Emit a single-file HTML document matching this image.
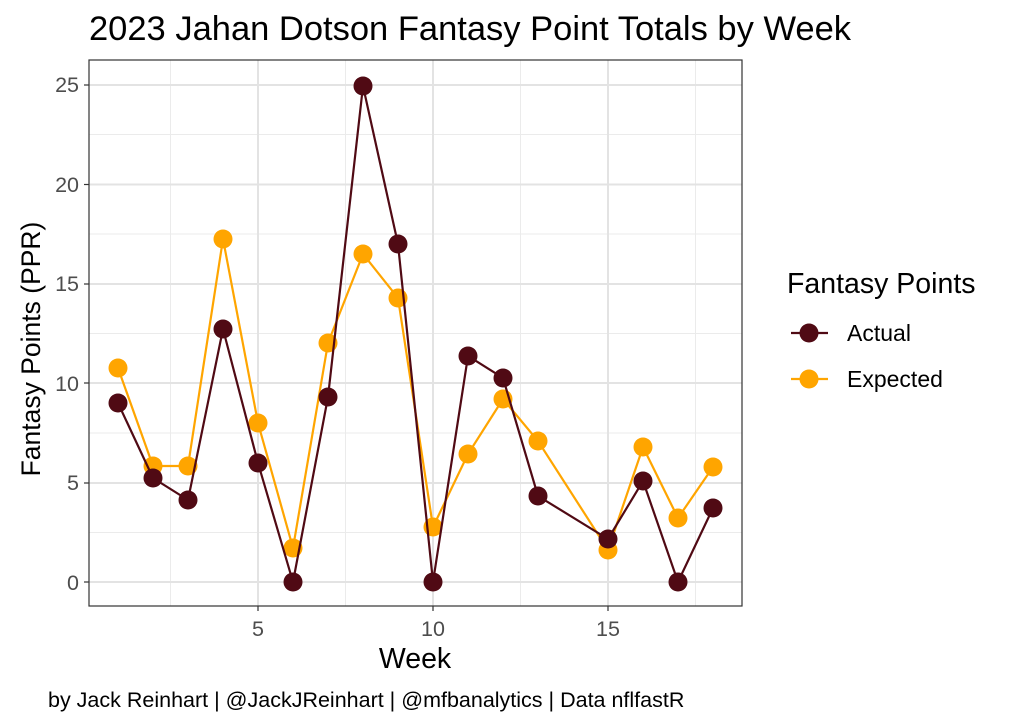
<!DOCTYPE html>
<html><head><style>body{margin:0;background:#fff}svg{display:block}text{font-family:"Liberation Sans",Arial,sans-serif}</style></head><body>
<svg width="1010" height="728" viewBox="0 0 1010 728" xmlns="http://www.w3.org/2000/svg">
<rect width="1010" height="728" fill="#fff"/>
<text x="89" y="40" font-size="34.5" fill="#000">2023 Jahan Dotson Fantasy Point Totals by Week</text>
<g stroke="#ebebeb" stroke-width="1">
<line x1="89" x2="742" y1="134.5" y2="134.5"/><line x1="89" x2="742" y1="234" y2="234"/><line x1="89" x2="742" y1="333.5" y2="333.5"/><line x1="89" x2="742" y1="433" y2="433"/><line x1="89" x2="742" y1="532.5" y2="532.5"/>
<line y1="60" y2="606" x1="170.5" x2="170.5"/><line y1="60" y2="606" x1="345.5" x2="345.5"/><line y1="60" y2="606" x1="520.5" x2="520.5"/><line y1="60" y2="606" x1="695.5" x2="695.5"/>
</g>
<g stroke="#e3e3e3" stroke-width="2">
<line x1="89" x2="742" y1="85" y2="85"/><line x1="89" x2="742" y1="184.5" y2="184.5"/><line x1="89" x2="742" y1="284" y2="284"/><line x1="89" x2="742" y1="383" y2="383"/><line x1="89" x2="742" y1="483" y2="483"/><line x1="89" x2="742" y1="582" y2="582"/>
<line y1="60" y2="606" x1="258" x2="258"/><line y1="60" y2="606" x1="433" x2="433"/><line y1="60" y2="606" x1="608" x2="608"/>
</g>
<rect x="89" y="60" width="653" height="546" fill="none" stroke="#333" stroke-width="1.2"/>
<g stroke="#333" stroke-width="1.2">
<line x1="84" x2="89" y1="85" y2="85"/><line x1="84" x2="89" y1="184.5" y2="184.5"/><line x1="84" x2="89" y1="284" y2="284"/><line x1="84" x2="89" y1="383" y2="383"/><line x1="84" x2="89" y1="483" y2="483"/><line x1="84" x2="89" y1="582" y2="582"/>
<line y1="606" y2="611" x1="258" x2="258"/><line y1="606" y2="611" x1="433" x2="433"/><line y1="606" y2="611" x1="608" x2="608"/>
</g>
<g font-size="21.5" fill="#4d4d4d" text-anchor="end">
<text x="79" y="92">25</text><text x="79" y="192">20</text><text x="79" y="291">15</text><text x="79" y="391">10</text><text x="79" y="490">5</text><text x="79" y="590">0</text>
</g>
<g font-size="21.5" fill="#4d4d4d" text-anchor="middle">
<text x="258" y="636">5</text><text x="433" y="636">10</text><text x="608" y="636">15</text>
</g>
<text x="415" y="668" font-size="28.5" text-anchor="middle">Week</text>
<text transform="translate(40,349) rotate(-90)" font-size="26.5" text-anchor="middle">Fantasy Points (PPR)</text>
<polyline fill="none" stroke="#FFA500" stroke-width="2.2" points="118,368 153,466 188,466 223,239 258,423 293,548 328,343 363,254 398,298 433,527 468,454 503,399 538,441 608,550 643,447 678,518 713,467"/>
<g fill="#FFA500">
<circle cx="118" cy="368" r="9.5"/><circle cx="153" cy="466" r="9.5"/><circle cx="188" cy="466" r="9.5"/><circle cx="223" cy="239" r="9.5"/><circle cx="258" cy="423" r="9.5"/><circle cx="293" cy="548" r="9.5"/><circle cx="328" cy="343" r="9.5"/><circle cx="363" cy="254" r="9.5"/><circle cx="398" cy="298" r="9.5"/><circle cx="433" cy="527" r="9.5"/><circle cx="468" cy="454" r="9.5"/><circle cx="503" cy="399" r="9.5"/><circle cx="538" cy="441" r="9.5"/><circle cx="608" cy="550" r="9.5"/><circle cx="643" cy="447" r="9.5"/><circle cx="678" cy="518" r="9.5"/><circle cx="713" cy="467" r="9.5"/>
</g>
<polyline fill="none" stroke="#500A14" stroke-width="2.2" points="118,403 153,478 188,500 223,329 258,463 293,582 328,397 363,86 398,244 433,582 468,356 503,378 538,496 608,539 643,481 678,582 713,508"/>
<g fill="#500A14">
<circle cx="118" cy="403" r="9.5"/><circle cx="153" cy="478" r="9.5"/><circle cx="188" cy="500" r="9.5"/><circle cx="223" cy="329" r="9.5"/><circle cx="258" cy="463" r="9.5"/><circle cx="293" cy="582" r="9.5"/><circle cx="328" cy="397" r="9.5"/><circle cx="363" cy="86" r="9.5"/><circle cx="398" cy="244" r="9.5"/><circle cx="433" cy="582" r="9.5"/><circle cx="468" cy="356" r="9.5"/><circle cx="503" cy="378" r="9.5"/><circle cx="538" cy="496" r="9.5"/><circle cx="608" cy="539" r="9.5"/><circle cx="643" cy="481" r="9.5"/><circle cx="678" cy="582" r="9.5"/><circle cx="713" cy="508" r="9.5"/>
</g>
<text x="787" y="293" font-size="28.5">Fantasy Points</text>
<line x1="791" x2="828" y1="333" y2="333" stroke="#500A14" stroke-width="2.2"/><circle cx="809" cy="333" r="9.5" fill="#500A14"/>
<text x="847" y="341" font-size="23">Actual</text>
<line x1="791" x2="828" y1="379" y2="379" stroke="#FFA500" stroke-width="2.2"/><circle cx="809" cy="379" r="9.5" fill="#FFA500"/>
<text x="847" y="387" font-size="23">Expected</text>
<text x="48" y="707" font-size="21.5">by Jack Reinhart | @JackJReinhart | @mfbanalytics | Data nflfastR</text>
</svg>
</body></html>
